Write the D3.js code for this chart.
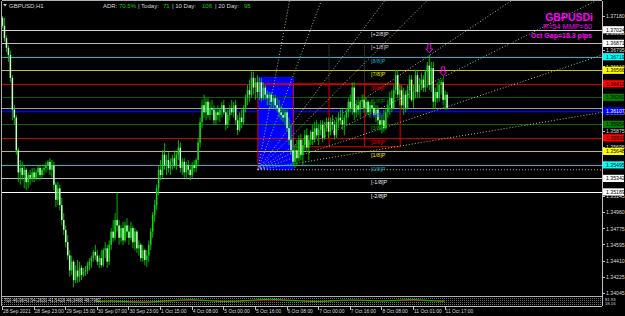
<!DOCTYPE html>
<html lang="en">
<head>
<meta charset="UTF-8">
<title>GBPUSD H1</title>
<script src="https://cdn.jsdelivr.net/npm/d3@7"></script>
<style>
    body { margin:0; background:#000; }
    svg { display:block; font-family:"Liberation Sans", Arial, sans-serif; }
    .axis path, .axis line { stroke:#c0c0c0; shape-rendering:crispEdges; }
    .axis text { fill:#d8d8d8; }
</style>
</head>
<body>
<svg width="625" height="316"></svg>
<script>

    // H1 bars, [open, high, low, close]
    var ohlc = [
        [1.3716,1.3718,1.3704,1.3707],[1.3707,1.3716,1.3689,1.3693],[1.3693,1.3696,1.3677,1.3682],[1.3682,1.3685,1.3666,1.3674],
        [1.3674,1.3679,1.3643,1.3648],[1.3648,1.3651,1.3600,1.3612],[1.3612,1.3617,1.3595,1.3603],[1.3603,1.3606,1.3561,1.3566],
        [1.3566,1.3569,1.3530,1.3541],[1.3541,1.3555,1.3527,1.3546],[1.3546,1.3553,1.3532,1.3538],[1.3538,1.3549,1.3523,1.3544],
        [1.3544,1.3546,1.3521,1.3530],[1.3530,1.3541,1.3523,1.3538],[1.3538,1.3544,1.3527,1.3535],[1.3535,1.3546,1.3530,1.3541],
        [1.3541,1.3546,1.3530,1.3535],[1.3535,1.3544,1.3532,1.3541],[1.3541,1.3549,1.3535,1.3546],[1.3546,1.3549,1.3532,1.3538],
        [1.3538,1.3546,1.3535,1.3544],[1.3544,1.3549,1.3538,1.3546],[1.3546,1.3553,1.3541,1.3549],[1.3549,1.3555,1.3544,1.3553],
        [1.3553,1.3557,1.3538,1.3544],[1.3544,1.3555,1.3535,1.3549],[1.3549,1.3553,1.3521,1.3527],[1.3527,1.3530,1.3502,1.3510],
        [1.3510,1.3530,1.3504,1.3523],[1.3523,1.3527,1.3498,1.3504],[1.3504,1.3512,1.3481,1.3487],[1.3487,1.3495,1.3470,1.3476],
        [1.3476,1.3481,1.3456,1.3462],[1.3462,1.3470,1.3442,1.3447],[1.3447,1.3453,1.3423,1.3430],[1.3430,1.3447,1.3425,1.3440],
        [1.3440,1.3442,1.3411,1.3419],[1.3419,1.3436,1.3416,1.3430],[1.3430,1.3442,1.3416,1.3423],[1.3423,1.3440,1.3417,1.3433],
        [1.3433,1.3436,1.3419,1.3425],[1.3425,1.3433,1.3423,1.3428],[1.3428,1.3435,1.3424,1.3430],[1.3430,1.3440,1.3426,1.3436],
        [1.3436,1.3444,1.3430,1.3440],[1.3440,1.3447,1.3433,1.3444],[1.3444,1.3453,1.3440,1.3451],[1.3451,1.3459,1.3442,1.3447],
        [1.3447,1.3453,1.3436,1.3440],[1.3440,1.3447,1.3433,1.3444],[1.3444,1.3453,1.3433,1.3436],[1.3436,1.3455,1.3434,1.3453],
        [1.3453,1.3462,1.3444,1.3455],[1.3455,1.3459,1.3433,1.3440],[1.3440,1.3464,1.3436,1.3459],[1.3459,1.3478,1.3453,1.3474],
        [1.3474,1.3487,1.3462,1.3467],[1.3467,1.3495,1.3464,1.3487],[1.3487,1.3518,1.3474,1.3481],[1.3481,1.3487,1.3459,1.3467],
        [1.3467,1.3481,1.3462,1.3478],[1.3478,1.3485,1.3459,1.3464],[1.3464,1.3485,1.3462,1.3481],[1.3481,1.3489,1.3467,1.3474],
        [1.3474,1.3481,1.3459,1.3467],[1.3467,1.3485,1.3464,1.3478],[1.3478,1.3481,1.3455,1.3462],[1.3462,1.3478,1.3453,1.3474],
        [1.3474,1.3476,1.3450,1.3455],[1.3455,1.3464,1.3447,1.3459],[1.3459,1.3461,1.3440,1.3444],[1.3444,1.3459,1.3440,1.3453],
        [1.3453,1.3455,1.3436,1.3442],[1.3442,1.3453,1.3434,1.3447],[1.3447,1.3464,1.3440,1.3459],[1.3459,1.3478,1.3453,1.3474],
        [1.3474,1.3496,1.3467,1.3493],[1.3493,1.3510,1.3485,1.3504],[1.3504,1.3527,1.3498,1.3523],[1.3523,1.3549,1.3515,1.3544],
        [1.3544,1.3555,1.3532,1.3538],[1.3538,1.3566,1.3535,1.3561],[1.3561,1.3574,1.3544,1.3549],[1.3549,1.3561,1.3538,1.3555],
        [1.3555,1.3564,1.3541,1.3546],[1.3546,1.3557,1.3538,1.3553],[1.3553,1.3561,1.3544,1.3557],[1.3557,1.3566,1.3546,1.3549],
        [1.3549,1.3564,1.3544,1.3561],[1.3561,1.3578,1.3555,1.3569],[1.3569,1.3575,1.3541,1.3546],[1.3546,1.3557,1.3538,1.3553],
        [1.3553,1.3557,1.3535,1.3541],[1.3541,1.3553,1.3535,1.3549],[1.3549,1.3555,1.3538,1.3544],[1.3544,1.3549,1.3532,1.3538],
        [1.3538,1.3553,1.3535,1.3549],[1.3549,1.3555,1.3541,1.3546],[1.3546,1.3557,1.3541,1.3555],[1.3555,1.3580,1.3549,1.3575],
        [1.3575,1.3603,1.3569,1.3598],[1.3598,1.3623,1.3591,1.3617],[1.3617,1.3629,1.3603,1.3609],[1.3609,1.3625,1.3600,1.3621],
        [1.3621,1.3625,1.3603,1.3606],[1.3606,1.3621,1.3600,1.3614],[1.3614,1.3623,1.3606,1.3612],[1.3612,1.3617,1.3595,1.3600],
        [1.3600,1.3614,1.3595,1.3609],[1.3609,1.3617,1.3600,1.3606],[1.3606,1.3614,1.3598,1.3612],[1.3612,1.3621,1.3603,1.3617],
        [1.3617,1.3623,1.3606,1.3609],[1.3609,1.3614,1.3589,1.3595],[1.3595,1.3612,1.3591,1.3606],[1.3606,1.3617,1.3600,1.3614],
        [1.3614,1.3623,1.3606,1.3609],[1.3609,1.3621,1.3603,1.3617],[1.3617,1.3623,1.3595,1.3600],[1.3600,1.3606,1.3583,1.3589],
        [1.3589,1.3609,1.3587,1.3603],[1.3603,1.3612,1.3591,1.3598],[1.3598,1.3617,1.3595,1.3614],[1.3614,1.3629,1.3609,1.3625],
        [1.3625,1.3640,1.3617,1.3634],[1.3634,1.3646,1.3621,1.3629],[1.3629,1.3655,1.3625,1.3648],[1.3648,1.3655,1.3629,1.3637],
        [1.3637,1.3648,1.3623,1.3643],[1.3643,1.3651,1.3625,1.3632],[1.3632,1.3648,1.3623,1.3643],[1.3643,1.3648,1.3621,1.3625],
        [1.3625,1.3643,1.3623,1.3637],[1.3637,1.3640,1.3623,1.3629],[1.3629,1.3634,1.3617,1.3625],[1.3625,1.3632,1.3617,1.3629],
        [1.3629,1.3632,1.3614,1.3621],[1.3621,1.3629,1.3614,1.3625],[1.3625,1.3629,1.3612,1.3617],[1.3617,1.3625,1.3609,1.3614],
        [1.3614,1.3623,1.3603,1.3609],[1.3609,1.3617,1.3600,1.3606],[1.3606,1.3614,1.3598,1.3603],[1.3603,1.3612,1.3595,1.3609],
        [1.3609,1.3612,1.3587,1.3591],[1.3591,1.3603,1.3572,1.3578],[1.3578,1.3595,1.3561,1.3566],[1.3566,1.3580,1.3548,1.3553],
        [1.3553,1.3572,1.3546,1.3566],[1.3566,1.3578,1.3549,1.3557],[1.3557,1.3583,1.3553,1.3578],[1.3578,1.3585,1.3555,1.3561],
        [1.3561,1.3578,1.3549,1.3572],[1.3572,1.3589,1.3566,1.3583],[1.3583,1.3591,1.3564,1.3569],[1.3569,1.3583,1.3555,1.3578],
        [1.3578,1.3589,1.3572,1.3587],[1.3587,1.3595,1.3572,1.3578],[1.3578,1.3598,1.3575,1.3591],[1.3591,1.3600,1.3580,1.3583],
        [1.3583,1.3595,1.3572,1.3589],[1.3589,1.3600,1.3583,1.3595],[1.3595,1.3600,1.3575,1.3580],[1.3580,1.3598,1.3578,1.3591],
        [1.3591,1.3603,1.3587,1.3598],[1.3598,1.3603,1.3580,1.3587],[1.3587,1.3603,1.3583,1.3598],[1.3598,1.3606,1.3589,1.3595],
        [1.3595,1.3600,1.3578,1.3583],[1.3583,1.3603,1.3580,1.3598],[1.3598,1.3609,1.3591,1.3603],[1.3603,1.3612,1.3595,1.3600],
        [1.3600,1.3614,1.3589,1.3595],[1.3595,1.3606,1.3583,1.3603],[1.3603,1.3614,1.3595,1.3609],[1.3609,1.3625,1.3603,1.3621],
        [1.3621,1.3629,1.3609,1.3614],[1.3614,1.3643,1.3606,1.3637],[1.3637,1.3643,1.3600,1.3609],[1.3609,1.3623,1.3603,1.3617],
        [1.3617,1.3625,1.3606,1.3612],[1.3612,1.3623,1.3603,1.3621],[1.3621,1.3629,1.3614,1.3623],[1.3623,1.3629,1.3609,1.3614],
        [1.3614,1.3625,1.3606,1.3621],[1.3621,1.3623,1.3606,1.3609],[1.3609,1.3621,1.3603,1.3617],[1.3617,1.3623,1.3609,1.3614],
        [1.3614,1.3621,1.3603,1.3606],[1.3606,1.3617,1.3598,1.3612],[1.3612,1.3617,1.3595,1.3600],[1.3600,1.3609,1.3589,1.3595],
        [1.3595,1.3606,1.3585,1.3600],[1.3600,1.3612,1.3587,1.3591],[1.3591,1.3614,1.3589,1.3609],[1.3609,1.3623,1.3603,1.3617],
        [1.3617,1.3632,1.3606,1.3625],[1.3625,1.3634,1.3609,1.3614],[1.3614,1.3640,1.3612,1.3634],[1.3634,1.3657,1.3629,1.3651],
        [1.3651,1.3657,1.3625,1.3629],[1.3629,1.3640,1.3617,1.3634],[1.3634,1.3640,1.3612,1.3617],[1.3617,1.3637,1.3606,1.3629],
        [1.3629,1.3634,1.3609,1.3614],[1.3614,1.3640,1.3612,1.3634],[1.3634,1.3651,1.3625,1.3646],[1.3646,1.3651,1.3621,1.3623],
        [1.3623,1.3640,1.3614,1.3632],[1.3632,1.3657,1.3625,1.3651],[1.3651,1.3657,1.3625,1.3632],[1.3632,1.3648,1.3625,1.3640],
        [1.3640,1.3654,1.3634,1.3646],[1.3646,1.3651,1.3632,1.3637],[1.3637,1.3657,1.3632,1.3655],[1.3655,1.3666,1.3637,1.3662],
        [1.3662,1.3674,1.3634,1.3640],[1.3640,1.3666,1.3632,1.3659],[1.3659,1.3666,1.3612,1.3621],[1.3621,1.3637,1.3614,1.3632],
        [1.3632,1.3643,1.3620,1.3625],[1.3625,1.3646,1.3621,1.3640],[1.3640,1.3646,1.3629,1.3643],[1.3643,1.3648,1.3617,1.3623],
        [1.3623,1.3634,1.3612,1.3629],[1.3629,1.3632,1.3612,1.3614]
    ];

    // axis ticks that are not hidden behind the level boxes
    var priceTicks = [1.37180, 1.36995, 1.36795, 1.36610, 1.36080, 1.35875, 1.35695,
                      1.35145, 1.34960, 1.34775, 1.34595, 1.34410, 1.34225, 1.34045];

    // Murrey Math levels, top to bottom
    var mmLevels = [1.37024, 1.36871, 1.36719, 1.36566, 1.36413, 1.36260, 1.36107,
                    1.35954, 1.35801, 1.35648, 1.35495, 1.35342, 1.35189];
    var mmNames = ["[+2/8]P", "[+1/8]P", "[8/8]P", "[7/8]P", "[6/8]P", "[5/8]P", "[4/8]P",
                   "[3/8]P", "[2/8]P", "[1/8]P", "[0/8]P", "[-1/8]P", "[-2/8]P"];

    var timeBars = [0, 16, 32, 48, 64, 80, 96, 112, 128, 144, 160, 176, 192, 208, 224];
    var timeLabels = ["28 Sep 2021", "28 Sep 23:00", "29 Sep 15:00", "30 Sep 07:00", "30 Sep 23:00",
                      "1 Oct 15:00", "4 Oct 08:00", "5 Oct 00:00", "5 Oct 16:00", "6 Oct 08:00",
                      "7 Oct 00:00", "7 Oct 16:00", "8 Oct 08:00", "11 Oct 01:00", "11 Oct 17:00"];

    // TDI sub window, one value every 8 bars from bar 48
    var tdiBars = [48, 56, 64, 72, 80, 88, 96, 104, 112, 120, 128, 136, 144, 152, 160, 168, 176, 184, 192, 200, 208, 216, 224];
    var tdiPrice  = [48, 52, 45, 42, 50, 58, 62, 55, 48, 52, 60, 66, 58, 52, 47, 55, 60, 57, 52, 58, 63, 55, 50];
    var tdiSignal = [50, 50, 47, 45, 47, 53, 58, 57, 52, 50, 55, 60, 60, 55, 50, 52, 57, 58, 55, 56, 59, 57, 53];
    var tdiText = "TDI 46.9643 54.2630 41.5418 46.3468 48.7987";

    var boxBars = [129.5, 147.8], boxPrices = [1.3649, 1.3544];
    var gridBars = [129.5, 147.5, 165.5, 183.5, 201.5];
    var gridPrices = [1.36413, 1.3570];
    var fanOrigin = [129.5, 1.3544];
    var arrowBars = [216, 223];

    var mmLine = ["#d4d4d4", "#bcbcbc", "#00c4cc", "#c8c020", "#d00000", "#0a5c0a", "#0000ff",
                  "#0a6a0a", "#d00000", "#c8c020", "#00c4cc", "#bcbcbc", "#ffffff"];
    var mmText = ["#e0e0e0", "#c8c8c8", "#10b0c0", "#e8e800", "#e00000", "#008000", "#3030ff",
                  "#00a000", "#e00000", "#e8e800", "#10b0c0", "#e8e8e8", "#ffffff"];
    var mmBox = ["#ffffff", "#ffffff", "#00ffff", "#ffff00", "#ff0000", "#008000", "#0000ff",
                 "#008000", "#ff0000", "#ffff00", "#00ffff", "#ffffff", "#ffffff"];

    var svg = d3.select("svg");
    var pLeft = 2, pRight = 602, pTop = 1, mainBottom = 296, subBottom = 306;

    var x = d3.scaleLinear().domain([0, 225]).range([2, 446.6]);
    var y = d3.scaleLinear().domain([1.37180, 1.34045]).range([16, 293]);

    svg.append("rect").attr("width", 625).attr("height", 316).attr("fill", "#000");

    svg.append("clipPath").attr("id", "main")
        .append("rect").attr("x", pLeft).attr("y", pTop).attr("width", pRight - pLeft).attr("height", mainBottom - pTop);

    var g = svg.append("g").attr("clip-path", "url(#main)");

    // blue box
    g.append("rect")
        .attr("x", x(boxBars[0])).attr("y", y(boxPrices[0]))
        .attr("width", x(boxBars[1]) - x(boxBars[0]))
        .attr("height", y(boxPrices[1]) - y(boxPrices[0]))
        .attr("fill", "#0000ff");

    // murrey math lines
    g.selectAll("line.mm")
        .data(mmLevels)
        .enter()
        .append("line")
        .attr("class", "mm")
        .attr("x1", pLeft).attr("x2", pRight)
        .attr("y1", function(d) { return Math.round(y(d)) + 0.5; })
        .attr("y2", function(d) { return Math.round(y(d)) + 0.5; })
        .attr("stroke", function(d, i) { return mmLine[i]; })
        .attr("stroke-width", function(d, i) { return i === 6 ? 1.5 : 1; });

    // bid line
    var last = ohlc[ohlc.length - 1][3];
    g.append("line")
        .attr("x1", pLeft).attr("x2", pRight)
        .attr("y1", Math.round(y(last)) + 0.5).attr("y2", Math.round(y(last)) + 0.5)
        .attr("stroke", "#a0a0a0");

    // grey grid above the red one
    [gridBars[2], gridBars[3]].forEach(function(b) {
        g.append("line")
            .attr("x1", x(b)).attr("x2", x(b))
            .attr("y1", y(mmLevels[1])).attr("y2", y(gridPrices[0]))
            .attr("stroke", "#5a5a5a").attr("stroke-dasharray", "1,1");
    });

    // red grid
    g.append("line")
        .attr("x1", x(gridBars[0])).attr("x2", x(gridBars[4]))
        .attr("y1", y(gridPrices[0])).attr("y2", y(gridPrices[0]))
        .attr("stroke", "#e00000");
    g.append("line")
        .attr("x1", x(gridBars[1])).attr("x2", x(gridBars[4]))
        .attr("y1", y(gridPrices[1])).attr("y2", y(gridPrices[1]))
        .attr("stroke", "#e00000");
    gridBars.forEach(function(b, i) {
        g.append("line")
            .attr("x1", x(b)).attr("x2", x(b))
            .attr("y1", y(gridPrices[0]))
            .attr("y2", i === 0 ? y(boxPrices[1]) : y(gridPrices[1]))
            .attr("stroke", "#e00000");
    });

    // fan from the box corner, slopes in pixels
    var fanSlopes = [-16 / 3, -8 / 3, -4 / 3, -1, -2 / 3, -1 / 2, -1 / 3, -1 / 6, 0];
    var ox = x(fanOrigin[0]), oy = y(fanOrigin[1]);
    g.selectAll("line.fan")
        .data(fanSlopes)
        .enter()
        .append("line")
        .attr("class", "fan")
        .attr("x1", ox).attr("y1", oy)
        .attr("x2", pRight)
        .attr("y2", function(s) { return oy + s * (pRight - ox); })
        .attr("stroke", "#c2b68e")
        .attr("stroke-dasharray", "1,2");

    // candles
    var bars = g.append("g");
    bars.selectAll("line.wick")
        .data(ohlc)
        .enter()
        .append("line")
        .attr("x1", function(d, i) { return x(i) + 0.5; })
        .attr("x2", function(d, i) { return x(i) + 0.5; })
        .attr("y1", function(d) { return y(d[1]); })
        .attr("y2", function(d) { return y(d[2]); })
        .attr("stroke", "#00c800")
        .attr("stroke-width", 0.9);
    bars.selectAll("rect.body")
        .data(ohlc)
        .enter()
        .append("rect")
        .attr("x", function(d, i) { return x(i) - 0.25; })
        .attr("width", 1.5)
        .attr("y", function(d) { return y(Math.max(d[0], d[3])); })
        .attr("height", function(d) { return Math.max(0.8, Math.abs(y(d[0]) - y(d[3]))); })
        .attr("fill", function(d) { return d[3] >= d[0] ? "#14d814" : "#c4fcc4"; });

    // level captions
    g.selectAll("text.mm")
        .data(mmLevels)
        .enter()
        .append("text")
        .attr("x", 371)
        .attr("y", function(d) { return y(d) + 5.8; })
        .attr("font-size", 5.5)
        .attr("fill", function(d, i) { return mmText[i]; })
        .text(function(d, i) { return mmNames[i]; });

    // arrows
    g.selectAll("path.arrow")
        .data(arrowBars)
        .enter()
        .append("path")
        .attr("d", function(b) {
            var cx = x(b) + 0.5, yb = y(ohlc[b][1]) - 2;
            return "M" + (cx - 1.5) + "," + (yb - 9) + "L" + (cx + 1.5) + "," + (yb - 9) +
                "L" + (cx + 1.5) + "," + (yb - 4) + "L" + (cx + 3.5) + "," + (yb - 4) +
                "L" + cx + "," + yb + "L" + (cx - 3.5) + "," + (yb - 4) +
                "L" + (cx - 1.5) + "," + (yb - 4) + "Z";
        })
        .attr("fill", "none")
        .attr("stroke", "#ff00ff")
        .attr("stroke-width", 0.9);

    // sub window
    var sy = d3.scaleLinear().domain([20, 80]).range([305, 297.5]);
    [298.5, 300.5, 302.5, 304.5].forEach(function(v) {
        svg.append("line").attr("x1", pLeft).attr("x2", pRight).attr("y1", v).attr("y2", v)
            .attr("stroke", "#6a6a6a").attr("stroke-dasharray", "1,1");
    });
    var tdiLine = function(vals) {
        return d3.line()
            .x(function(d, i) { return x(tdiBars[i]); })
            .y(function(d) { return sy(d); })
            .curve(d3.curveMonotoneX)(vals);
    };
    svg.append("path").attr("d", tdiLine(tdiSignal)).attr("fill", "none").attr("stroke", "#e00000").attr("stroke-width", 1);
    svg.append("path").attr("d", tdiLine(tdiPrice)).attr("fill", "none").attr("stroke", "#00d000").attr("stroke-width", 1);
    svg.append("text").attr("x", 4).attr("y", 302).attr("font-size", 4.6).attr("fill", "#d0d0d0").text(tdiText);

    // frame
    svg.append("line").attr("x1", pLeft - 0.5).attr("x2", pLeft - 0.5).attr("y1", pTop).attr("y2", subBottom).attr("stroke", "#b0b0b0");
    svg.append("line").attr("x1", pLeft).attr("x2", pRight).attr("y1", pTop - 0.5).attr("y2", pTop - 0.5).attr("stroke", "#b0b0b0");
    svg.append("line").attr("x1", pLeft).attr("x2", pRight).attr("y1", mainBottom + 0.5).attr("y2", mainBottom + 0.5).attr("stroke", "#b0b0b0");

    // price axis
    var yAxis = svg.append("g")
        .attr("class", "axis")
        .attr("transform", "translate(" + (pRight + 0.5) + ",0)")
        .call(d3.axisRight(y).tickValues(priceTicks).tickFormat(d3.format(".5f")).tickSize(2).tickSizeOuter(0));
    yAxis.select(".domain").attr("d", "M0," + pTop + "V" + subBottom);
    yAxis.selectAll("text").attr("font-size", 5.2).attr("x", 3.5);

    // level price boxes
    var pb = svg.selectAll("g.pbox")
        .data(mmLevels)
        .enter()
        .append("g")
        .attr("transform", function(d) { return "translate(" + (pRight + 1) + "," + y(d) + ")"; });
    pb.append("rect")
        .attr("x", 0).attr("y", -3.6).attr("width", 21).attr("height", 7.2)
        .attr("fill", function(d, i) { return mmBox[i]; });
    pb.append("text")
        .attr("x", 3).attr("y", 2)
        .attr("font-size", 5.2)
        .attr("fill", function(d, i) { return i === 6 ? "#ffffff" : "#000000"; })
        .text(function(d) { return d3.format(".5f")(d); });

    svg.append("text").attr("x", 605).attr("y", 300.5).attr("font-size", 4.2).attr("fill", "#d8d8d8").text("81.93");
    svg.append("text").attr("x", 605).attr("y", 305).attr("font-size", 4.2).attr("fill", "#d8d8d8").text("18.16");

    // time axis
    var xAxis = svg.append("g")
        .attr("class", "axis")
        .attr("transform", "translate(0," + (subBottom + 0.5) + ")")
        .call(d3.axisBottom(x).tickValues(timeBars).tickFormat(function(d, i) { return timeLabels[i]; }).tickSize(3).tickSizeOuter(0));
    xAxis.select(".domain").attr("d", "M" + pLeft + ",0H" + pRight);
    xAxis.selectAll("text").attr("font-size", 4.9).attr("text-anchor", "start").attr("x", 0.5).attr("dy", "0.35em").attr("y", 5);

    // header texts
    svg.append("path").attr("d", "M3,4L7,4L5,6.5Z").attr("fill", "#d0d0d0");
    svg.append("text").attr("x", 9).attr("y", 7.5).attr("font-size", 6).attr("fill", "#d8d8d8").text("GBPUSD,H1");
    var adr = [["ADR:", 103, "#d8d8d8"], ["70.5%", 119, "#10d010"], ["| Today:", 138, "#d8d8d8"], ["71", 163, "#10d010"],
               ["| 10 Day:", 172, "#d8d8d8"], ["106", 202, "#10d010"], ["| 20 Day:", 215, "#d8d8d8"], ["95", 244, "#10d010"]];
    svg.selectAll("text.adr")
        .data(adr)
        .enter()
        .append("text")
        .attr("x", function(d) { return d[1]; })
        .attr("y", 7.5)
        .attr("font-size", 6)
        .attr("fill", function(d) { return d[2]; })
        .text(function(d) { return d[0]; });

    svg.append("text").attr("x", 593).attr("y", 21).attr("text-anchor", "end").attr("font-size", 10.5)
        .attr("font-weight", "bold").attr("fill", "#ff00ff").text("GBPUSDi");
    svg.append("text").attr("x", 592).attr("y", 28.5).attr("text-anchor", "end").attr("font-size", 7.3)
        .attr("fill", "#ff00ff").text("R=54 MMP=60");
    svg.append("text").attr("x", 592).attr("y", 37.5).attr("text-anchor", "end").attr("font-size", 7)
        .attr("font-weight", "bold").attr("fill", "#ff00ff").text("Oct Gap=18.3 pips");

</script>
</body>
</html>
